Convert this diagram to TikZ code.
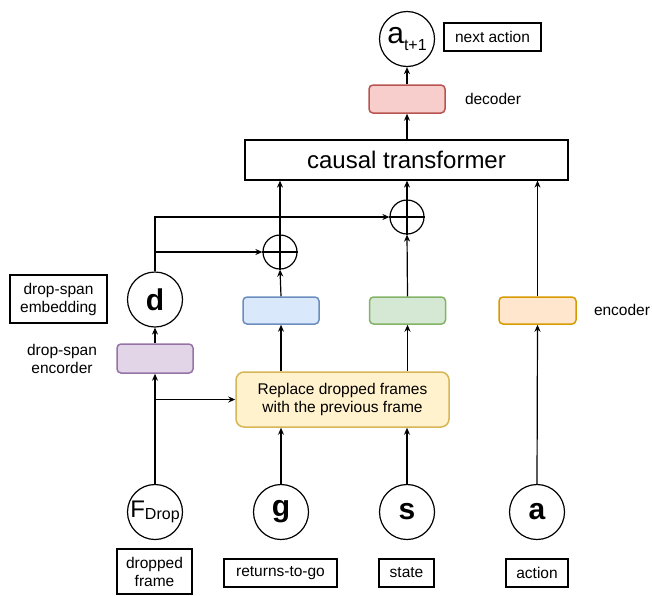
\documentclass[tikz,border=0pt]{standalone}
\usepackage{fontspec}
\setmainfont{Liberation Sans}
\usetikzlibrary{arrows.meta,positioning,calc}
\definecolor{bluef}{HTML}{DAE8FC}\definecolor{blued}{HTML}{6C8EBF}
\definecolor{greenf}{HTML}{D5E8D4}\definecolor{greend}{HTML}{82B366}
\definecolor{purpf}{HTML}{E1D5E7}\definecolor{purpd}{HTML}{9673A6}
\definecolor{yelf}{HTML}{FFF2CC}\definecolor{yeld}{HTML}{D6B656}
\definecolor{orf}{HTML}{FFE6CC}\definecolor{ord}{HTML}{D79B00}
\definecolor{redf}{HTML}{F8CECC}\definecolor{redd}{HTML}{B85450}
\begin{document}
\begin{tikzpicture}[x=1pt,y=-1pt,
  circ/.style={draw, circle, minimum size=55pt, inner sep=0pt, line width=1.2pt},
  plus/.style={draw, circle, minimum size=34pt, inner sep=0pt, line width=1.2pt},
  lab/.style={draw, line width=1.2pt, inner sep=0pt, font=\fontsize{15.5}{18}\selectfont, align=center},
  txt/.style={font=\fontsize{15.5}{18}\selectfont, align=center},
  cbox/.style={draw, rounded corners=4pt, minimum width=76pt, minimum height=27pt, line width=1.5pt, inner sep=0pt},
  arr/.style={-{Stealth[length=7pt,width=6pt]}, line width=1.2pt},
  ln/.style={line width=1.2pt},
  big/.style={font=\fontsize{30}{30}\selectfont\bfseries}
]
\useasboundingbox (0,0) rectangle (652,595);

% top
\node[circ] (at1) at (407,39) {\fontsize{30}{30}\selectfont a\raisebox{-0.5ex}{\fontsize{16}{16}\selectfont t+1}};
\node[lab, minimum width=97pt, minimum height=28pt] (next) at (492.5,37) {next action};
\node[cbox, fill=redf, draw=redd, minimum height=28pt] (dec) at (407,99) {};
\node[txt] (dectext) at (493,99) {decoder};
\node[draw, line width=1.2pt, minimum width=323pt, minimum height=40pt, inner sep=0pt, font=\fontsize{24}{24}\selectfont] (ct) at (406.5,160) {causal transformer};

% plus nodes
\node[plus] (p1) at (280,252) {};
\node[plus] (p2) at (407,217) {};
\draw[ln] (p1.north) -- (p1.south) (p1.west) -- (p1.east);
\draw[ln] (p2.north) -- (p2.south) (p2.west) -- (p2.east);

% encoders
\node[cbox, fill=bluef, draw=blued] (blue) at (281,310.5) {};
\node[cbox, fill=greenf, draw=greend] (green) at (407.5,310.5) {};
\node[cbox, fill=orf, draw=ord, minimum width=77pt] (orange) at (537.5,310.5) {};
\node[txt] (enctext) at (622,310) {encoder};
\node[cbox, fill=purpf, draw=purpd, minimum height=29pt] (purple) at (155,358.5) {};
\node[circ] (d) at (155,299.5) {\fontsize{30}{30}\selectfont\bfseries d};
\node[lab, minimum width=97pt, minimum height=48pt] (dse) at (58.5,299) {drop-span\\embedding};
\node[txt] (dsenc) at (62,359) {drop-span\\encorder};

% yellow
\node[draw=yeld, fill=yelf, line width=1.5pt, rounded corners=8pt, minimum width=213pt, minimum height=55pt, inner sep=0pt, txt] (yellow) at (342.5,399.5) {Replace dropped frames\\with the previous frame};

% inputs
\node[circ] (F) at (155,512) {\fontsize{24}{24}\selectfont F\raisebox{-0.2ex}{\fontsize{16}{16}\selectfont Drop}};
\node[circ] (g) at (281,512) {\fontsize{30}{30}\selectfont\bfseries g};
\node[circ] (s) at (407,512) {\fontsize{30}{30}\selectfont\bfseries s};
\node[circ] (a) at (537,512) {\fontsize{30}{30}\selectfont\bfseries a};

\node[lab, minimum width=75pt, minimum height=45pt] (df) at (154.5,571.5) {dropped\\frame};
\node[lab, minimum width=113pt, minimum height=28pt] (rtg) at (280.5,573) {returns-to-go};
\node[lab, minimum width=55pt, minimum height=28pt] (st) at (406.5,573) {state};
\node[lab, minimum width=62pt, minimum height=28pt] (ac) at (537,573) {action};

% connectors
\coordinate (br) at (F.north |- yellow.west);
\draw[arr] (F.north) -- (purple.south);
\draw[arr] (br) -- (yellow.west);
\draw[arr] (purple.north) -- (d.south);
\draw[arr] (d.north) -- (d.north |- p2.west) -- (p2.west);
\draw[arr] (d.north |- p1.west) -- (p1.west);
\draw[arr] (g.north) -- (g.north |- yellow.south);
\draw[arr] (s.north) -- (s.north |- yellow.south);
\draw[arr] (blue.south |- yellow.north) -- (blue.south);
\draw[arr] (green.south |- yellow.north) -- (green.south);
\draw[arr] (blue.north) -- (p1.south);
\draw[arr] (green.north) -- (p2.south);
\draw[arr] (p1.north) -- (p1.north |- ct.south);
\draw[arr] (p2.north) -- (p2.north |- ct.south);
\draw[arr] (a.north) -- (orange.south);
\draw[arr] (orange.north) -- (orange.north |- ct.south);
\draw[arr] (dec.south |- ct.north) -- (dec.south);
\draw[arr] (dec.north) -- (at1.south);
\end{tikzpicture}
\end{document}
